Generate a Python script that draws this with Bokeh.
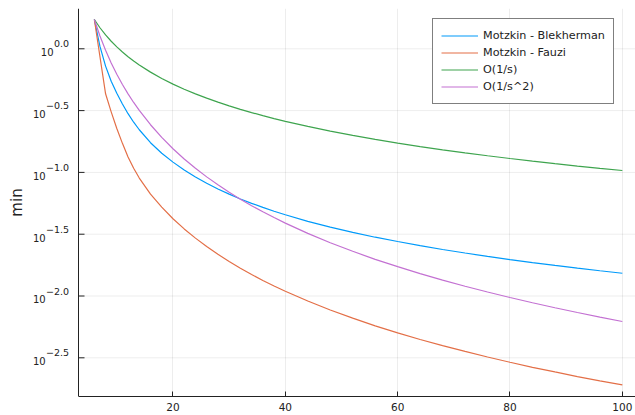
import math
from bokeh.plotting import figure
from bokeh.models import Range1d, FixedTicker, Legend, LegendItem
from bokeh.core.properties import value
from bokeh.embed import file_html
from bokeh.resources import INLINE

# ---------------- data ----------------
s = [6, 7, 8, 9, 10, 11, 12, 13, 14, 16, 18, 20, 22, 24, 26, 28, 30, 32, 34,
     36, 38, 40, 44, 48, 52, 56, 60, 64, 68, 72, 76, 80, 84, 88, 92, 96, 100]
s_fauzi = [6, 8, 9, 10, 11, 12, 13, 14, 16, 18, 20, 22, 24, 26, 28, 30, 32,
           34, 36, 38, 40, 44, 48, 52, 56, 60, 64, 68, 72, 76, 80, 84, 88, 92,
           96, 100]
motzkin_blekherman = [1.726, 1.046, 0.7244, 0.5458, 0.4365, 0.3573, 0.2985,
                      0.2547, 0.2213, 0.1738, 0.1429, 0.1211, 0.1046, 0.0918,
                      0.0817, 0.0735, 0.0667, 0.0610, 0.0562, 0.0521, 0.0485,
                      0.0454, 0.0402, 0.0361, 0.0327, 0.0299, 0.0276, 0.02556,
                      0.02379, 0.02227, 0.02091, 0.01971, 0.01864, 0.01767,
                      0.01680, 0.01600, 0.01528]
motzkin_fauzi = [1.726, 0.4325, 0.309, 0.2265, 0.1718, 0.1334, 0.1079, 0.0900,
                 0.0667, 0.0524, 0.0422, 0.0349, 0.02939, 0.02512, 0.02175,
                 0.01901, 0.01678, 0.01493, 0.01337, 0.01206, 0.01093, 0.00911,
                 0.00771, 0.00662, 0.00574, 0.00503, 0.00445, 0.00397, 0.00356,
                 0.00321, 0.00291, 0.00265, 0.00243, 0.00223, 0.00206, 0.00191]
o_1_s = [1.727, 1.480, 1.295, 1.151, 1.036, 0.9418, 0.8633, 0.7969, 0.7400,
         0.6475, 0.5756, 0.5180, 0.4709, 0.4317, 0.3985, 0.3700, 0.3453,
         0.3238, 0.3047, 0.2878, 0.2726, 0.2590, 0.2355, 0.2158, 0.1992,
         0.1850, 0.1727, 0.1619, 0.1524, 0.1439, 0.1363, 0.1295, 0.1233,
         0.1177, 0.1126, 0.1079, 0.1036]
o_1_s2 = [1.727, 1.269, 0.9719, 0.7679, 0.6220, 0.5140, 0.4319, 0.3680,
          0.3173, 0.2430, 0.1920, 0.1555, 0.1285, 0.1080, 0.0920, 0.0793,
          0.0691, 0.0607, 0.0538, 0.0480, 0.0431, 0.0389, 0.0321, 0.0270,
          0.0230, 0.0198, 0.0173, 0.01519, 0.01345, 0.0120, 0.01077, 0.00972,
          0.00882, 0.00803, 0.00735, 0.00675, 0.00622]

series_names = ["Motzkin - Blekherman", "Motzkin - Fauzi", "O(1/s)", "O(1/s^2)"]
series_x = [s, s_fauzi, s, s]
series_values = [motzkin_blekherman, motzkin_fauzi, o_1_s, o_1_s2]
colors = ["#009AFA", "#E36F47", "#3EA44E", "#C371D2"]

x_ticks = [20, 40, 60, 80, 100]
y_tick_exponents = [0.0, -0.5, -1.0, -1.5, -2.0, -2.5]
y_tick_base = "10"
y_tick_exp_labels = ["0.0", "\u22120.5", "\u22121.0", "\u22121.5", "\u22122.0", "\u22122.5"]
y_label = "min"

# ---------------- layout constants ----------------
FONT = "DejaVu Sans"
TXT = "#222222"
W, H = 635, 415
FRAME_LEFT_PX = 78           # where the left spine sits
x_start = 3.18
PX_PER_X = 5.617             # horizontal scale (px per x unit)
x_lo = x_start - FRAME_LEFT_PX / PX_PER_X
x_hi = x_start + (W - FRAME_LEFT_PX) / PX_PER_X
y_start, y_end = 10 ** -2.813, 10 ** 0.326

p = figure(width=W, height=H,
           x_range=Range1d(x_lo, x_hi), y_range=Range1d(y_start, y_end),
           y_axis_type="log", y_axis_location=None,
           output_backend="svg", toolbar_location=None,
           min_border_left=0, min_border_right=0, min_border_top=8,
           min_border_bottom=19)
p.outline_line_color = None
p.background_fill_color = "white"
p.border_fill_color = "white"

y_ticks = [10 ** e for e in y_tick_exponents]

# ---- bottom axis ----
p.xaxis.bounds = (x_start, x_hi)
p.xaxis.ticker = FixedTicker(ticks=x_ticks)
p.xaxis.axis_line_color = TXT
p.xaxis.axis_line_width = 1
p.xaxis.major_tick_line_color = TXT
p.xaxis.major_tick_in = 5
p.xaxis.major_tick_out = 0
p.xaxis.minor_tick_line_color = None
p.xaxis.major_label_text_font = FONT
p.xaxis.major_label_text_font_size = "10.5px"
p.xaxis.major_label_text_color = TXT
p.xaxis.major_label_standoff = 6

p.xgrid.ticker = FixedTicker(ticks=x_ticks)
p.xgrid.grid_line_color = "#000000"
p.xgrid.grid_line_alpha = 0.07
p.xgrid.grid_line_width = 1
p.ygrid.visible = False

# ---- left spine, inward ticks, horizontal grid lines (drawn by hand) ----
n = len(y_ticks)
p.segment(x0=[x_start] * n, x1=[x_hi] * n, y0=y_ticks, y1=y_ticks,
          line_color="#000000", line_alpha=0.07, line_width=1, level="underlay")
p.segment(x0=[x_start], x1=[x_start], y0=[y_start], y1=[y_end],
          line_color=TXT, line_width=1)
p.segment(x0=[x_start] * n, x1=[x_start + 6 / PX_PER_X] * n, y0=y_ticks, y1=y_ticks,
          line_color=TXT, line_width=1)

# ---- y tick labels: "10" with a raised exponent ----
BASE_SIZE, EXP_SIZE = 10.0, 9.5
char_em = {".": 0.318, "\u2212": 0.838}
exp_w = [sum(char_em.get(c, 0.636) for c in t) * EXP_SIZE for t in y_tick_exp_labels]
GAP = 9.5
p.text(x=[x_start] * n, y=y_ticks, text=y_tick_exp_labels,
       x_offset=-GAP, y_offset=-5.0, text_align="right", text_baseline="alphabetic",
       text_font=value(FONT), text_font_size=value(f"{EXP_SIZE}px"), text_color=TXT)
p.text(x=[x_start] * n, y=y_ticks, text=[y_tick_base] * n,
       x_offset=[-GAP - w - 0.3 for w in exp_w], y_offset=3.3,
       text_align="right", text_baseline="alphabetic",
       text_font=value(FONT), text_font_size=value(f"{BASE_SIZE}px"), text_color=TXT)

# ---- y axis title ----
y_mid = 10 ** ((math.log10(y_start) + math.log10(y_end)) / 2)
p.text(x=[x_start - 62 / PX_PER_X], y=[y_mid], text=[y_label], angle=math.pi / 2,
       text_align="center", text_baseline="middle",
       text_font=value(FONT), text_font_size=value("15px"), text_color=TXT)

# ---- series ----
renderers = []
for name, xs, vals, col in zip(series_names, series_x, series_values, colors):
    r = p.line(xs, vals, line_color=col, line_width=1.2)
    renderers.append(r)

legend = Legend(items=[LegendItem(label=nm, renderers=[r])
                       for nm, r in zip(series_names, renderers)],
                location=(432, 292))
legend.border_line_color = "black"
legend.border_line_width = 1
legend.background_fill_color = "white"
legend.background_fill_alpha = 1
legend.label_text_font = FONT
legend.label_text_font_size = "11.2px"
legend.label_text_color = TXT
legend.glyph_width = 37
legend.glyph_height = 17
legend.label_height = 17
legend.spacing = 0
legend.padding = 8
legend.label_standoff = 5
legend.margin = 0
p.add_layout(legend)

open("out.html", "w").write(file_html(p, INLINE))
